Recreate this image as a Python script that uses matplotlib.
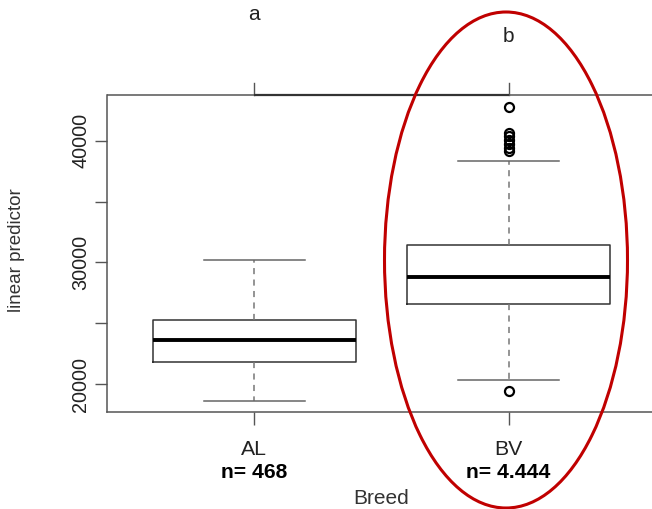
import matplotlib
matplotlib.use("Agg")
import matplotlib.pyplot as plt
import matplotlib.transforms as mtrans
from matplotlib.patches import Ellipse

# ---- data ----
categories = ["AL", "BV"]
group_letters = ["a", "b"]
counts_text = ["n= 468", "n= 4.444"]
whislo = [18570, 20353]
q1 = [21808, 26623]
median = [23640, 28841]
q3 = [25283, 31446]
whishi = [30214, 38348]
outliers_AL = []
outliers_BV = [42810, 40650, 40400, 40050, 39750, 39450, 39150, 19392]
yticks = [20000, 25000, 30000, 35000, 40000]
ytick_labels = ["20000", "", "30000", "", "40000"]

plt.rcParams['font.family'] = ['Liberation Sans', 'DejaVu Sans']

W, H = 652, 509
fig = plt.figure(figsize=(W / 100, H / 100), dpi=100)
ax = fig.add_axes([107 / W, 1 - 412 / H, (656 - 107) / W, (412 - 95) / H])

stats = []
outs = [outliers_AL, outliers_BV]
for i, c in enumerate(categories):
    stats.append(dict(label=c, whislo=whislo[i], q1=q1[i], med=median[i],
                      q3=q3[i], whishi=whishi[i], fliers=outs[i]))

ax.bxp(stats, positions=[1, 2], widths=0.8, showfliers=True,
       boxprops=dict(color='#333333', linewidth=1.1),
       medianprops=dict(color='black', linewidth=2.8),
       whiskerprops=dict(color='#777777', linewidth=1.1, linestyle=(0, (4, 3.5))),
       capprops=dict(color='#666666', linewidth=1.1),
       capwidths=0.4,
       flierprops=dict(marker='o', markerfacecolor='none', markeredgecolor='black',
                       markersize=6.5, markeredgewidth=1.6))

ax.set_xlim(0.42, 2.58)
ax.set_ylim(17699, 43772)

for s in ax.spines.values():
    s.set_color('#555555')
    s.set_linewidth(1.1)
ax.spines['top'].set_visible(False)

ax.set_yticks(yticks)
ax.set_yticklabels(ytick_labels, rotation=90, va='center', fontsize=14.3, color='#222222')
ax.tick_params(axis='y', length=9, width=1.0, color='#555555', pad=3)
ax.set_xticks([1, 2])
ax.set_xticklabels(categories, fontsize=15.3, color='#222222')
ax.tick_params(axis='x', length=9, width=1.0, color='#555555', pad=11)

xt = ax.get_xaxis_transform()
x0, x1 = ax.get_xlim()
# top border (thin) + top axis line between groups (slightly heavier)
for seg, lw, col in [((x0, 1), 1.1, '#555555'), ((1, 2), 1.6, '#333333'),
                     ((2, x1), 1.1, '#555555')]:
    ax.plot(list(seg), [1, 1], transform=xt, color=col, linewidth=lw,
            clip_on=False, solid_capstyle='butt', zorder=3, snap=True)
for xi in [1, 2]:
    ax.plot([xi, xi], [1, 1 + 12 / (412 - 95)], transform=xt,
            color='#555555', linewidth=1.0, clip_on=False)
bt = mtrans.blended_transform_factory(ax.transData, fig.transFigure)
letter_y = [14, 37]
for xi, lt, yp in zip([1, 2], group_letters, letter_y):
    ax.text(xi, 1 - yp / H, lt, transform=bt, ha='center', va='center',
            fontsize=15, color='#222222')

# counts
for xi, t in zip([1, 2], counts_text):
    ax.text(xi, 1 - 472 / H, t, transform=bt, ha='center', va='center',
            fontsize=15.2, fontweight='bold', color='black')

fig.text(381 / W, 1 - 499 / H, "Breed", ha='center', va='center', fontsize=15,
         color='#333333')
fig.text(17 / W, 1 - 250 / H, "linear predictor", ha='center', va='center',
         rotation=90, fontsize=13.5, color='#333333')

ell = Ellipse((506 / W, 1 - 260 / H), 243 / W, 496 / H, transform=fig.transFigure,
              fill=False, edgecolor='#c00000', linewidth=2.2)
fig.patches.append(ell)

fig.savefig("out.png", dpi=100)
